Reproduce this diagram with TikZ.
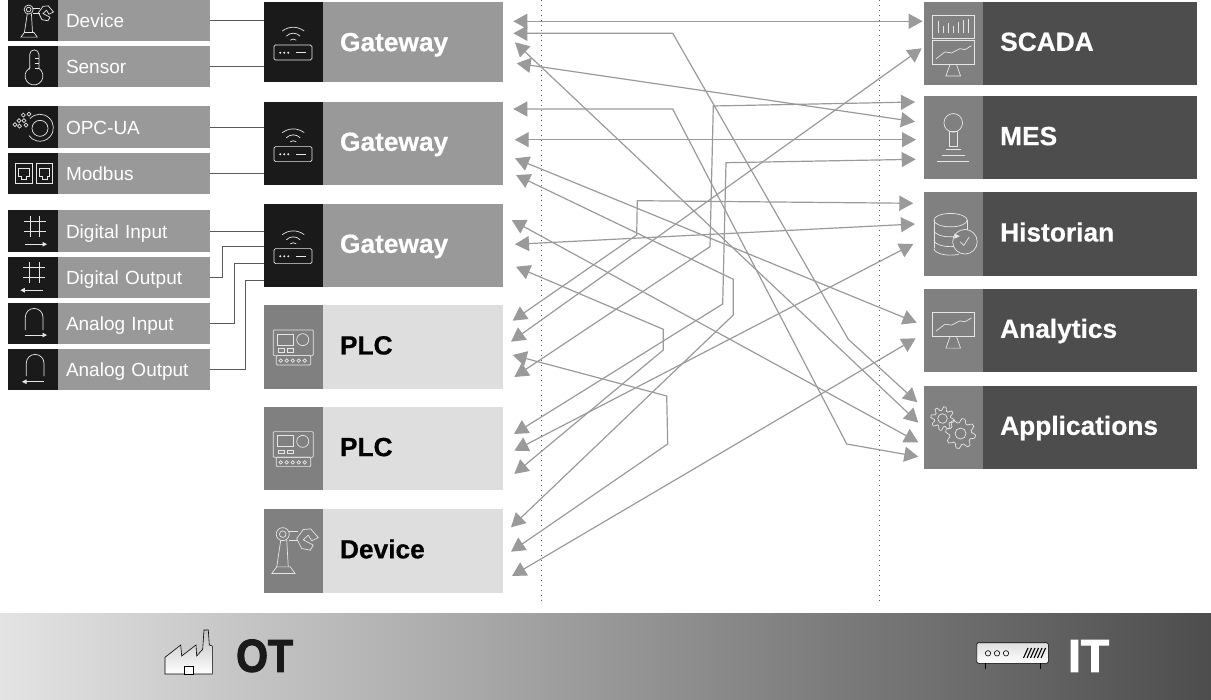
\documentclass[tikz,border=0pt]{standalone}
\usepackage{fontspec}
\setmainfont[BoldFeatures={FakeBold=0.5}]{Liberation Sans}
\newfontfamily\heavyfont[BoldFeatures={FakeBold=2.4}]{Liberation Sans}
\usetikzlibrary{arrows.meta}
\definecolor{boxdark}{HTML}{1A1A1A}
\definecolor{boxgray}{HTML}{999999}
\definecolor{boxmid}{HTML}{808080}
\definecolor{boxlight}{HTML}{DEDEDE}
\definecolor{boxcoal}{HTML}{4D4D4D}
\definecolor{linkgray}{HTML}{9A9A9A}
\definecolor{wiregray}{HTML}{5A5A5A}
\definecolor{icongray}{HTML}{E6E6E6}
\tikzset{
  boxbase/.style={rectangle,anchor=north west,inner ysep=0pt,outer sep=0pt,align=left},
  smallicon/.style={boxbase,fill=boxdark,inner xsep=0pt,minimum width=50pt,minimum height=41.5pt},
  smallbody/.style={boxbase,fill=boxgray,text=white,inner xsep=8pt,text width=136pt,minimum height=41.5pt,
    font=\fontsize{19}{20}\selectfont,text height=14pt,text depth=0pt},
  gwicon/.style={boxbase,fill=boxdark,inner xsep=0pt,minimum width=58.5pt,minimum height=83.3pt},
  bigbody/.style={boxbase,inner xsep=17.5pt,text width=145.5pt,minimum height=83.3pt,
    font=\fontsize{26.3}{28}\selectfont\bfseries,text height=19pt,text depth=4pt},
  gwbody/.style={bigbody,fill=boxgray,text=white},
  plcicon/.style={gwicon,fill=boxmid},
  plcbody/.style={bigbody,fill=boxlight,text=black},
  iticon/.style={gwicon,fill=boxmid},
  itbody/.style={bigbody,fill=boxcoal,text=white,text width=179pt},
  bandtext/.style={font=\heavyfont\fontsize{46}{46}\selectfont\bfseries,inner sep=0pt,anchor=base west},
  iconline/.style={draw=icongray,line width=0.7pt},
  wire/.style={draw=wiregray,line width=1pt},
  link/.style={draw=linkgray,fill=none,line width=1.2pt,
    {Triangle[length=14pt,width=15pt,fill=linkgray]}-{Triangle[length=14pt,width=15pt,fill=linkgray]}},
  sigarrow/.style={draw=icongray,line width=0.7pt,-{Triangle[length=4.5pt,width=4.5pt]}},
  pics/robot/.style={code={
    \draw[iconline] (-21.5,22.7) -- (-16.5,16) -- (-3,16) -- (1.8,22.7) -- cycle;
    \draw[iconline] (-16.5,16) -- (-12.5,-10.7) (-6.5,-10.7) -- (-5,16);
    \draw[iconline] (-10.5,-16.7) circle (6.5) (-10.5,-16.7) circle (3.3);
    \draw[iconline] (-4,-19) -- (5,-19) (-4,-10.7) -- (5,-10.7);
    \draw[iconline] (3.5,-12.3) -- (10,-21.3) -- (17.5,-22) -- (25,-13.3) -- (18.5,-10) -- (15,-15.7)
      -- (10,-11) -- (20,-5.7) -- (17,-0.7) -- (8.5,-2.3) -- cycle;
  }},
  pics/thermo/.style={code={
    \draw[iconline] (-3.3,1.6) -- (-3.3,-12) arc[start angle=180,end angle=360,radius=4.6] -- (5.9,1.95)
      arc[start angle=303,end angle=601.5,radius=9] -- cycle;
    \draw[iconline] (2,-8.5) -- (5.9,-8.5) (2,-3.5) -- (5.9,-3.5) (2,1.5) -- (5.9,1.5);
  }},
  pics/opcua/.style={code={
    \draw[iconline] (7,1.3) circle (8);
    \draw[iconline] (-3,-8.5) arc[start angle=223,end angle=504,radius=13.5];
    \foreach \dx/\dy in {-9.7/-12,-14/-6.5,-18/-2.5,-9/-6.5,-13.5/-1,-4/-13,-7/-2}
      \draw[iconline] (\dx-2,\dy) -- (\dx,\dy-2) -- (\dx+2,\dy) -- (\dx,\dy+2) -- cycle;
  }},
  pics/rjport/.style={code={
    \draw[iconline] (-8.3,-10) rectangle (8.3,10);
    \draw[iconline] (-5.3,-5) -- (5.3,-5) -- (5.3,2.5) -- (2.5,2.5) -- (2.5,5.5) -- (-2.5,5.5) -- (-2.5,2.5) -- (-5.3,2.5) -- cycle;
  }},
  pics/digit/.style={code={
    \draw[iconline] (-2.7,-15.3) -- (-2.7,5.3) (6.7,-15.3) -- (6.7,5.3) (-9.3,-9.7) -- (13,-9.7) (-9.3,-0.3) -- (13,-0.3);
  }},
  pics/arch/.style={code={
    \draw[iconline] (-7.7,6.3) -- (-7.7,-6.5) arc[start angle=180,end angle=360,radius=8.85] -- (10,6.3);
  }},
  pics/router/.style={code={
    \draw[iconline,rounded corners=1.5pt] (-19.3,3.3) rectangle (18.7,18.3);
    \fill[icongray] (-13,11) circle (1.1) (-9,11) circle (1.1) (-5,11) circle (1.1);
    \draw[iconline] (3,11) -- (13,11);
    \draw[iconline] (-11,-10.7) .. controls (-4,-15.7) and (4,-15.7) .. (11,-10.7);
    \draw[iconline] (-7,-5.5) .. controls (-3,-9.5) and (3,-9.5) .. (7,-5.5);
    \draw[iconline] (-3,-1.5) .. controls (-1,-3) and (1,-3) .. (3,-1.5);
  }},
  pics/plcunit/.style={code={
    \draw[iconline,rounded corners=1pt] (-20,-17) rectangle (20,8.7);
    \draw[iconline] (-16,-13) rectangle (0,-2);
    \draw[iconline] (9.5,-7.3) circle (6);
    \draw[iconline] (-15,1.7) rectangle (-9,5) (-6,1.7) rectangle (0,5);
    \draw[iconline,rounded corners=1pt] (-17,8.7) rectangle (17.5,18);
    \foreach \dx in {-12.5,-6.5,-0.5,5.5,11.5}
      \draw[iconline] (\dx,13.7) circle (1.8);
  }},
  pics/chart/.style={code={
    \draw[iconline] (-20.7,-17.5) rectangle (20.7,5.8);
    \draw[iconline] (-17.3,0.8) -- (-8.3,-6.2) -- (-1.7,-5.2) -- (6.7,-9.5) -- (11.7,-8.5) -- (18.3,-12.5);
    \draw[iconline] (-3.3,6.5) -- (-7.3,17.8) -- (7.3,17.8) -- (3.3,6.5);
  }},
  pics/bars/.style={code={
    \draw[iconline] (-20.7,-28.3) rectangle (20.7,-5);
    \draw[iconline] (-15,-10) -- (-15,-22.7) (-10,-10) -- (-10,-17.3) (-5,-10) -- (-5,-20)
      (0,-10) -- (0,-17.3) (5,-10) -- (5,-21.7) (10,-10) -- (10,-23.3) (15,-10) -- (15,-24);
  }},
  pics/stick/.style={code={
    \draw[iconline] (0,-14.8) circle (9.3);
    \draw[iconline] (-4.3,-5.8) rectangle (3.7,8.5);
    \draw[iconline] (-7.3,11.8) -- (7.3,11.8) (-11.7,17.5) -- (11.7,17.5) (-16,23.8) -- (16,23.8);
  }},
  pics/store/.style={code={
    \draw[iconline] (-2.7,-13.8) ellipse [x radius=16.7,y radius=6.7];
    \draw[iconline] (-19.4,-13.8) -- (-19.4,14.5) (14,-13.8) -- (14,3);
    \draw[iconline] (-19.4,-3.8) arc[start angle=180,end angle=0,x radius=16.7,y radius=6.7];
    \draw[iconline] (-19.4,6) arc[start angle=180,end angle=60,x radius=16.7,y radius=6.7];
    \draw[iconline] (-19.4,14.5) arc[start angle=180,end angle=60,x radius=16.7,y radius=6.7];
    \draw[iconline,fill=boxmid] (11.7,7.8) circle (12.3);
    \draw[iconline] (7,8) -- (10.5,11.5) -- (16,3);
    \fill[icongray] (1,-0.5) -- (6.7,2.2) -- (1,5) -- cycle;
  }},
  pics/gears/.style={code={
    \draw[iconline,shift={(-10.7,-8.8)}] plot[domain=0:360,samples=65] (\x:{10+1.8*sign(sin(8*\x))}) -- cycle;
    \draw[iconline] (-10.7,-8.8) circle (4.8);
    \draw[iconline,shift={(7.3,6.2)}] plot[domain=0:360,samples=65] (\x:{13+2*sign(sin(8*\x))}) -- cycle;
    \draw[iconline] (7.3,6.2) circle (5.5);
  }},
}
\begin{document}
\begin{tikzpicture}[x=1pt,y=-1pt]
\useasboundingbox (0,0) rectangle (1211,700);

% bottom band
\shade[left color=boxlight!85!white,right color=boxcoal] (0,613) rectangle (1211,700);
\draw[linkgray!60!black,dash pattern=on 0.9pt off 4.1pt] (541.5,0) -- (541.5,602);
\draw[linkgray!60!black,dash pattern=on 0.9pt off 4.1pt] (879.5,0) -- (879.5,602);

% field level, left column
\node[smallicon] (devIc) at (8,-0.5) {};
\node[smallbody] (dev) at (58,-0.5) {Device};
\node[smallicon] (senIc) at (8,45.7) {};
\node[smallbody] (sen) at (58,45.7) {Sensor};
\node[smallicon] (opcIc) at (8,106.3) {};
\node[smallbody] (opc) at (58,106.3) {OPC-UA};
\node[smallicon] (modIc) at (8,152.7) {};
\node[smallbody] (mod) at (58,152.7) {Modbus};
\node[smallicon] (diIc) at (8,210.5) {};
\node[smallbody] (di) at (58,210.5) {Digital Input};
\node[smallicon] (doIc) at (8,256.7) {};
\node[smallbody] (do) at (58,256.7) {Digital Output};
\node[smallicon] (aiIc) at (8,303) {};
\node[smallbody] (ai) at (58,303) {Analog Input};
\node[smallicon] (aoIc) at (8,349) {};
\node[smallbody] (ao) at (58,349) {Analog Output};

\pic[scale=0.7] at ([xshift=3pt,yshift=-1pt]devIc.center) {robot};
\pic at (senIc.center) {thermo};
\pic at (opcIc.center) {opcua};
\pic at ([xshift=-9pt]modIc.center) {rjport};
\pic at ([xshift=11.5pt]modIc.center) {rjport};
\pic at (diIc.center) {digit};
\draw[sigarrow] ([xshift=-7.7pt,yshift=-13pt]diIc.center) -- ([xshift=14pt,yshift=-13pt]diIc.center);
\pic at ([xshift=-0.6pt]doIc.center) {digit};
\draw[sigarrow] ([xshift=9.7pt,yshift=-12.8pt]doIc.center) -- ([xshift=-12.7pt,yshift=-12.8pt]doIc.center);
\pic at (aiIc.center) {arch};
\draw[sigarrow] ([xshift=-7.7pt,yshift=-11.3pt]aiIc.center) -- ([xshift=14pt,yshift=-11.3pt]aiIc.center);
\pic at ([xshift=1pt]aoIc.center) {arch};
\draw[sigarrow] ([xshift=11pt,yshift=-12pt]aoIc.center) -- ([xshift=-11pt,yshift=-12pt]aoIc.center);

% gateways, plcs and device
\node[gwicon,minimum height=80pt] (gwAIc) at (264,1.7) {};
\node[gwbody,minimum height=80pt,text depth=0pt] (gwA) at (322.5,1.7) {Gateway};
\node[gwicon] (gwBIc) at (264,101.7) {};
\node[gwbody] (gwB) at (322.5,101.7) {Gateway};
\node[gwicon] (gwCIc) at (264,203.7) {};
\node[gwbody] (gwC) at (322.5,203.7) {Gateway};
\node[plcicon] (plcAIc) at (264,305.3) {};
\node[plcbody] (plcA) at (322.5,305.3) {PLC};
\node[plcicon] (plcBIc) at (264,407) {};
\node[plcbody] (plcB) at (322.5,407) {PLC};
\node[plcicon] (devBIc) at (264,509.2) {};
\node[plcbody] (devB) at (322.5,509.2) {Device};

\pic at (gwAIc.center) {router};
\pic at (gwBIc.center) {router};
\pic at (gwCIc.center) {router};
\pic at (plcAIc.center) {plcunit};
\pic at (plcBIc.center) {plcunit};
\pic at (devBIc.center) {robot};

% it side
\node[iticon] (scadaIc) at (924,1.7) {};
\node[itbody] (scada) at (982.7,1.7) {SCADA};
\node[iticon] (mesIc) at (924,96) {};
\node[itbody] (mes) at (982.7,96) {MES};
\node[iticon] (hisIc) at (924,192.3) {};
\node[itbody] (his) at (982.7,192.3) {Historian};
\node[iticon] (anaIc) at (924,288.7) {};
\node[itbody] (ana) at (982.7,288.7) {Analytics};
\node[iticon] (appIc) at (924,385.7) {};
\node[itbody] (app) at (982.7,385.7) {Applications};

\pic at (scadaIc.center) {bars};
\pic at ([yshift=-14.8pt]scadaIc.center) {chart};
\pic at (mesIc.center) {stick};
\pic at (hisIc.center) {store};
\pic at (anaIc.center) {chart};
\pic at (appIc.center) {gears};

% wires into the gateways
\coordinate (gwCin) at (264,247);
\coordinate (gwCan) at (264,263.7);
\coordinate (gwCao) at (264,280.7);
\draw[wire] (dev.east) -- (dev.east -| gwAIc.west);
\draw[wire] (sen.east) -- (sen.east -| gwAIc.west);
\draw[wire] (opc.east) -- (opc.east -| gwBIc.west);
\draw[wire] (mod.east) -- (mod.east -| gwBIc.west);
\draw[wire] (di.east) -- (di.east -| gwCIc.west);
\draw[wire] (do.east) -- ++(12.7,0) |- (gwCin);
\draw[wire] (ai.east) -- ++(24,0) |- (gwCan);
\draw[wire] (ao.east) -- ++(35.7,0) |- (gwCao);

% free ends of the links, ot side
\coordinate (gwAa) at (513.3,21.3);
\coordinate (gwAb) at (513.3,33.3);
\coordinate (gwAc) at (515,42.3);
\coordinate (gwAd) at (516.7,63.3);
\coordinate (gwBa) at (513.3,109);
\coordinate (gwBb) at (514.7,139.7);
\coordinate (gwBc) at (515,158.3);
\coordinate (gwBd) at (516,175);
\coordinate (gwCa) at (511.7,220);
\coordinate (gwCb) at (515,244.3);
\coordinate (gwCc) at (516,266.7);
\coordinate (plcAa) at (512.7,320.7);
\coordinate (plcAb) at (511,341.7);
\coordinate (plcAc) at (512.7,355);
\coordinate (plcAd) at (514.3,377);
\coordinate (plcBa) at (514,434);
\coordinate (plcBb) at (514.3,450.7);
\coordinate (plcBc) at (514.3,474);
\coordinate (devBa) at (511,527.3);
\coordinate (devBb) at (511,551.7);
\coordinate (devBc) at (512,576);
% free ends of the links, it side
\coordinate (scadaA) at (922.7,21.3);
\coordinate (scadaB) at (921.7,48.3);
\coordinate (mesA) at (915,102);
\coordinate (mesB) at (915,121.7);
\coordinate (mesC) at (916,139.7);
\coordinate (mesD) at (915.7,159.3);
\coordinate (hisA) at (913.3,203.3);
\coordinate (hisB) at (915,224);
\coordinate (hisC) at (913.3,244);
\coordinate (anaA) at (916.7,322.7);
\coordinate (anaB) at (915.7,338.3);
\coordinate (appA) at (917.3,402.3);
\coordinate (appB) at (918.3,422.7);
\coordinate (appC) at (918.3,442.3);
\coordinate (appD) at (918.3,456.7);

% links
\draw[link] (gwAa) -- (scadaA);
\draw[link] (gwAb) -- (672.7,33.3) -- (848.3,339.3) -- (appA);
\draw[link] (gwAc) -- (appB);
\draw[link] (gwAd) -- (mesB);
\draw[link] (gwBa) -- (672.7,109) -- (846.7,444) -- (appD);
\draw[link] (gwBb) -- (mesC);
\draw[link] (gwBc) -- (anaA);
\draw[link] (gwBd) -- (733.3,279.3) -- (733.3,315) -- (devBa);
\draw[link] (gwCa) -- (appC);
\draw[link] (gwCb) -- (hisB);
\draw[link] (gwCc) -- (663.3,329.3) -- (663.3,350) -- (plcBc);
\draw[link] (plcAa) -- (636.7,235) -- (637.3,200.7) -- (hisA);
\draw[link] (plcAb) -- (scadaB);
\draw[link] (plcAc) -- (666.7,396) -- (667.7,444) -- (devBb);
\draw[link] (plcAd) -- (710,246.7) -- (713.3,106) -- (mesA);
\draw[link] (plcBa) -- (722.7,304) -- (726,162.7) -- (mesD);
\draw[link] (plcBb) -- (hisC);
\draw[link] (devBc) -- (anaB);

% band icons and labels
\draw[black,line width=0.6pt,top color=boxmid!50!white,bottom color=white]
  (165,674) -- (165,657.3) -- (180.7,645) -- (181.7,656) -- (196,645) -- (196.7,656) -- (202.7,649.3)
  -- (204,630) -- (208.3,630) -- (209.3,645) -- (212.3,646) -- (212.3,674) -- cycle;
\draw[black,line width=0.6pt,fill=white] (184,666.7) rectangle (193.3,674);
\node[bandtext,xscale=0.89,text=boxdark] (ot) at (236,671.7) {OT};
\draw[black,line width=0.6pt,rounded corners=2pt,top color=boxlight,bottom color=white] (976.7,642.7) rectangle (1048.3,663.3);
\draw[black,line width=1pt] (985,663.3) -- (985,669) (1040,663.3) -- (1040,669);
\draw[black,line width=0.6pt] (988,653.3) circle (2.7) (997,653.3) circle (2.7) (1006,653.3) circle (2.7);
\foreach \dx in {0,3.5,7,10.5,14,17.5}
  \draw[black,line width=1.1pt] (1023.5+\dx,658) -- (1028+\dx,648);
\node[bandtext,text=white] (it) at (1068,671.7) {IT};
\end{tikzpicture}
\end{document}
